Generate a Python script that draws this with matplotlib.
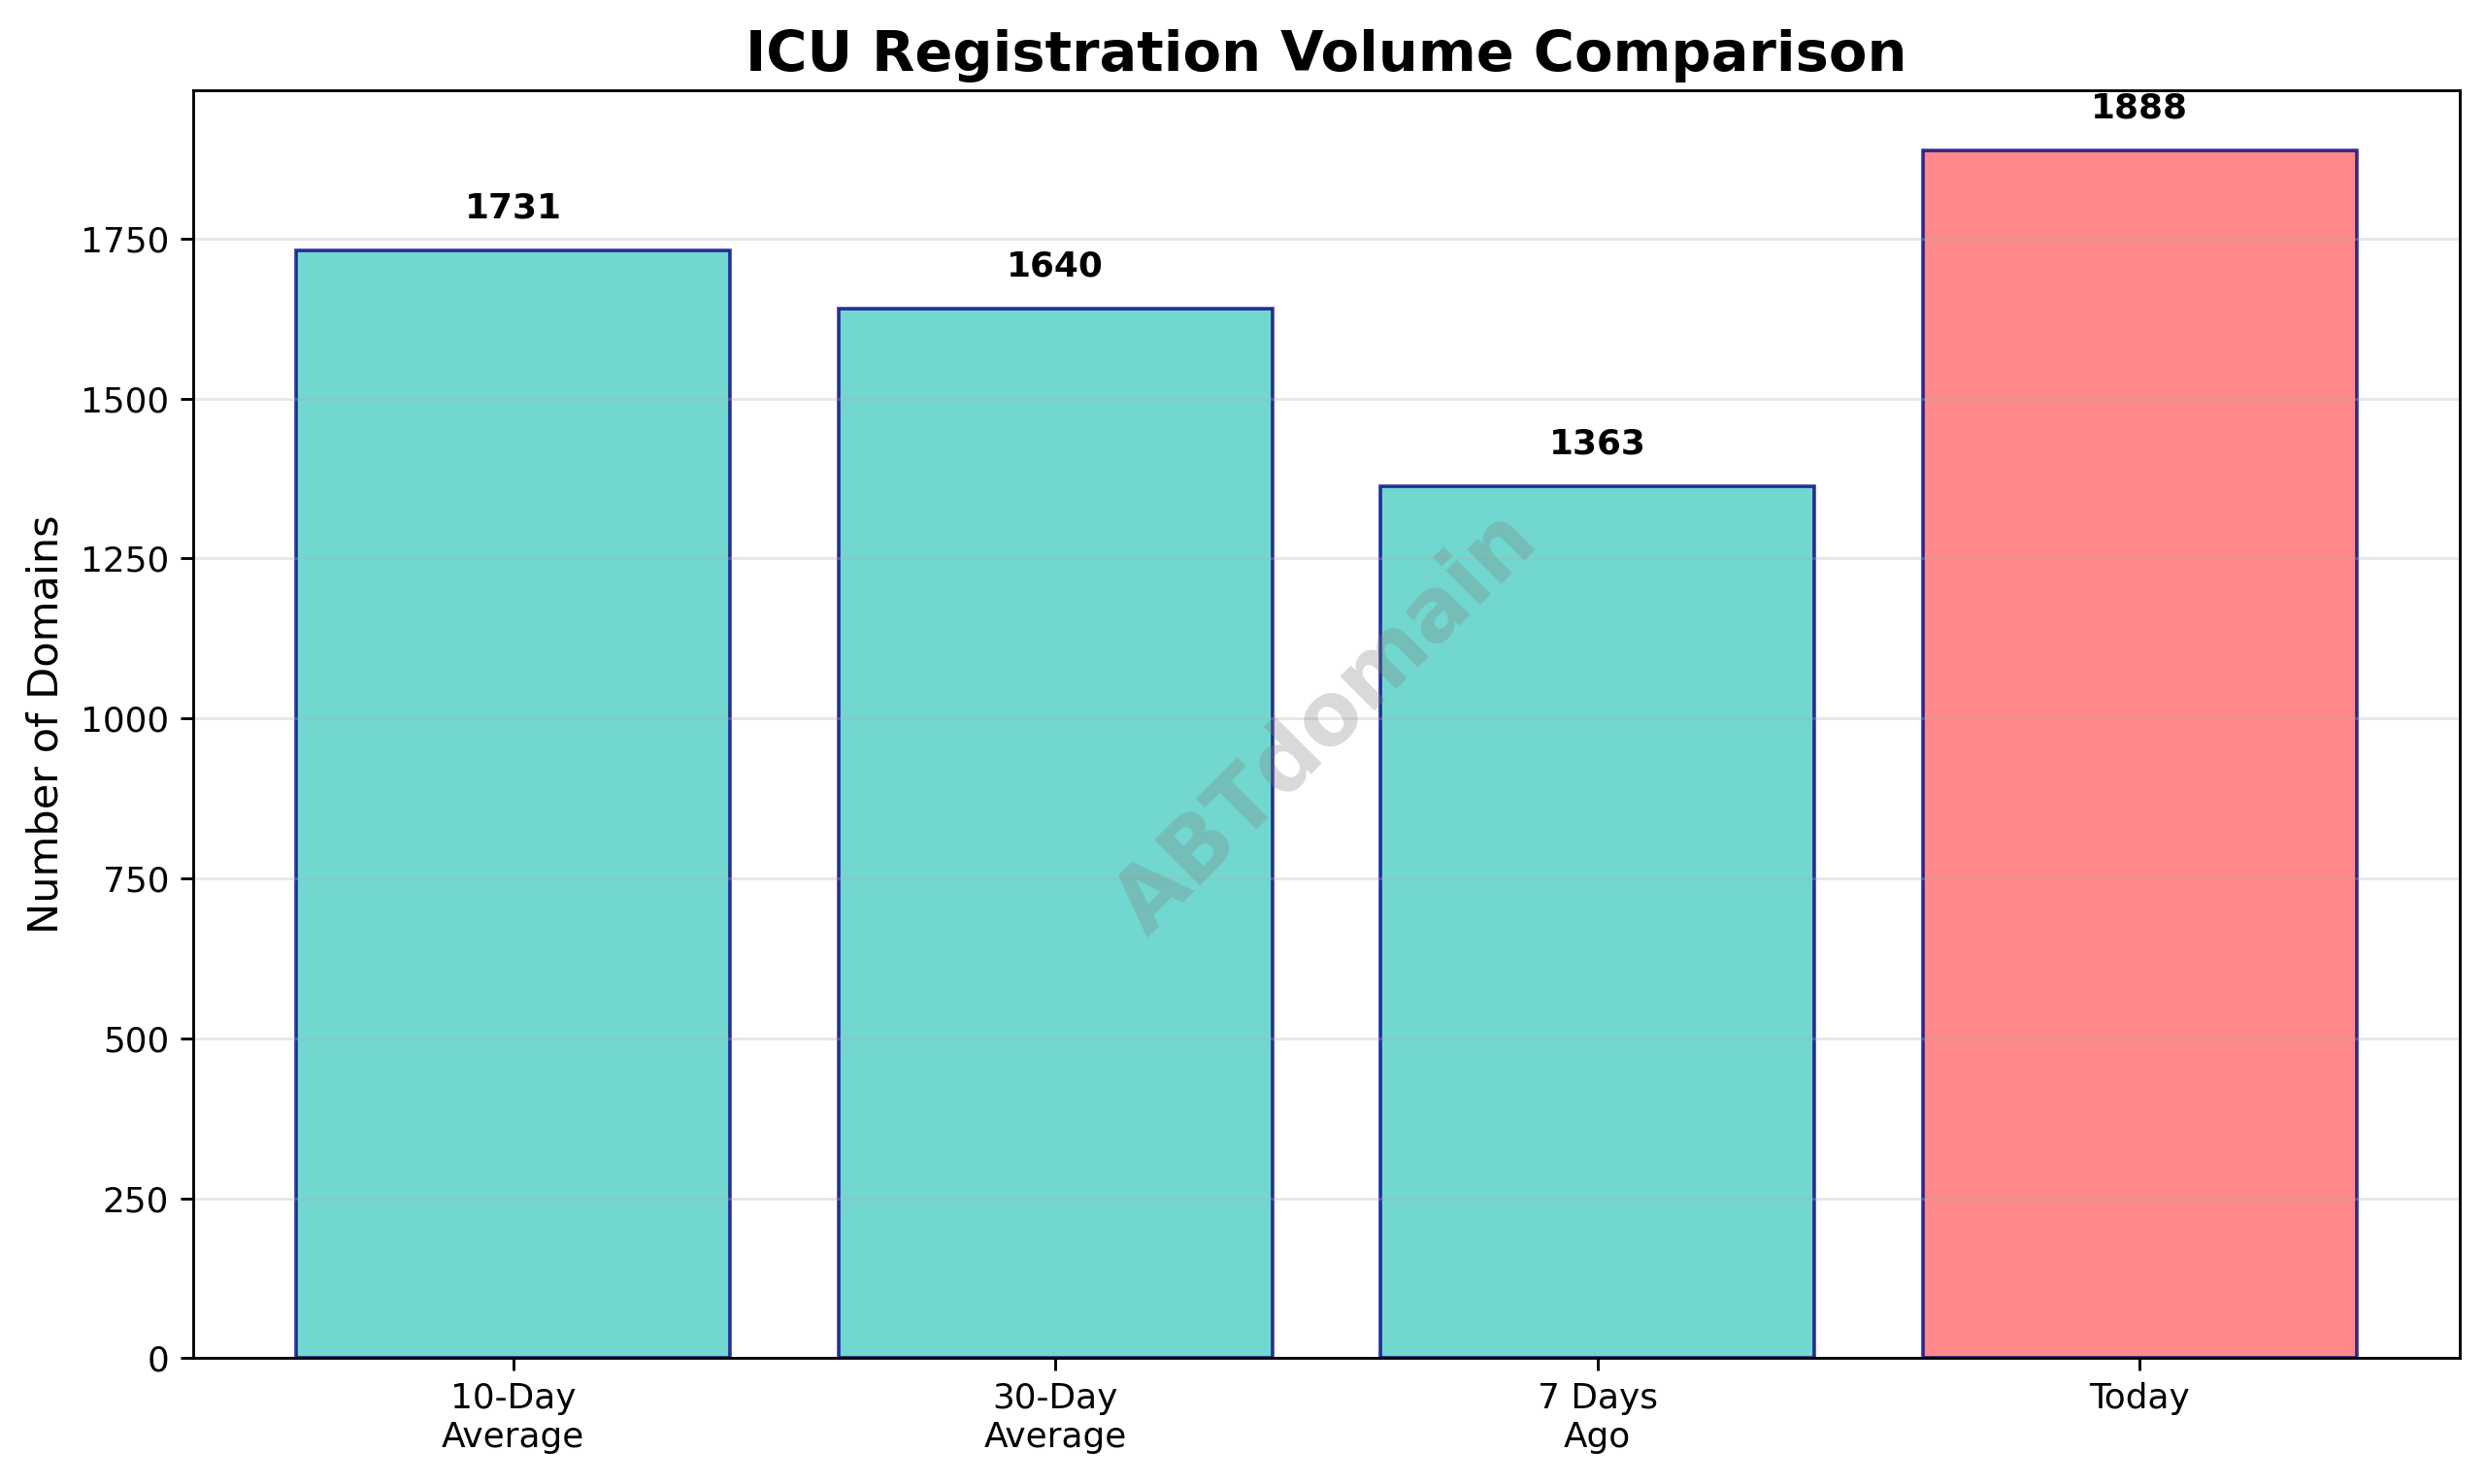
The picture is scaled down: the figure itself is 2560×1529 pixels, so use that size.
import matplotlib.pyplot as plt

categories = ["10-Day\nAverage", "30-Day\nAverage", "7 Days\nAgo", "Today"]
values = [1731, 1640, 1363, 1888]
colors = ["#4ECDC4", "#4ECDC4", "#4ECDC4", "#FF6B6B"]

dpi = 258.5
fig, ax = plt.subplots(figsize=(2560 / dpi, 1529 / dpi), dpi=dpi)
bars = ax.bar(categories, values, color=colors, alpha=0.8, edgecolor="navy", linewidth=1)

for bar, val in zip(bars, values):
    ax.text(bar.get_x() + bar.get_width() / 2, val + 40, str(val),
            ha="center", va="bottom", fontweight="bold", fontsize=10)

ax.set_title("ICU Registration Volume Comparison", fontsize=16, fontweight="bold", pad=5.5)
ax.set_ylabel("Number of Domains", fontsize=12)
ax.grid(axis="y", alpha=0.3)

# watermark sits in the middle of the axes
ax.text(0.5, 0.5, "ABTdomain", transform=ax.transAxes, fontsize=25, fontweight="bold",
        color="gray", alpha=0.3, rotation=45, ha="center", va="center")

fig.subplots_adjust(left=0.0778, right=0.9898, top=0.9395, bottom=0.0848)
plt.savefig("out.png", dpi=dpi)
